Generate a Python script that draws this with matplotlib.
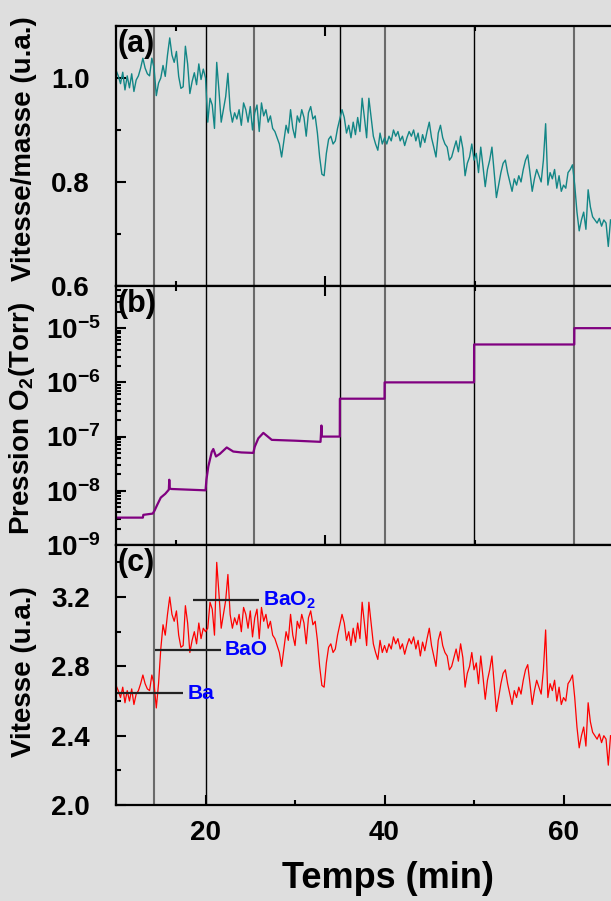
import numpy as np
import matplotlib
matplotlib.use("Agg")
from matplotlib import pyplot as plt
from matplotlib.ticker import MultipleLocator, FixedLocator, LogLocator, FuncFormatter, NullFormatter

# vitesse de depot (u.a.), un point toutes les 0.25 min a partir de 10 min
vitesse = [
	2.69, 2.66, 2.62, 2.68, 2.59, 2.66, 2.60, 2.67, 2.58, 2.64, 2.66, 2.70,
	2.75, 2.70, 2.67, 2.66, 2.75, 2.70, 2.56, 2.70, 2.90, 3.04, 2.98, 3.10,
	3.20, 3.10, 3.06, 3.12, 2.98, 2.91, 2.92, 3.15, 3.05, 2.88, 2.95, 3.00,
	2.93, 3.05, 2.96, 3.02, 3.00, 3.02, 3.17, 3.13, 2.98, 3.40, 3.22, 3.02,
	3.10, 3.18, 3.33, 3.10, 3.02, 3.08, 3.04, 3.10, 3.00, 3.14, 3.10, 3.02,
	3.12, 2.97, 3.08, 3.13, 2.96, 3.14, 3.06, 3.10, 3.02, 3.06, 2.98, 2.96,
	2.92, 2.88, 2.80, 2.90, 3.00, 2.95, 3.10, 2.98, 2.92, 3.06, 3.02, 3.10,
	3.05, 2.93, 3.08, 3.12, 3.04, 3.06, 2.95, 2.80, 2.69, 2.68, 2.82, 2.91,
	2.93, 2.88, 2.90, 2.98, 3.04, 3.10, 3.05, 2.95, 3.00, 2.92, 3.02, 2.94,
	3.05, 2.96, 3.17, 3.05, 2.92, 3.17, 3.05, 2.93, 2.88, 2.84, 2.95, 2.88,
	2.92, 2.88, 2.93, 2.90, 2.97, 2.93, 2.96, 2.90, 2.93, 2.87, 2.92, 2.96,
	2.93, 2.97, 2.90, 2.95, 2.86, 2.94, 2.89, 2.96, 3.02, 2.92, 2.86, 2.80,
	2.95, 3.00, 2.92, 2.88, 2.86, 2.78, 2.80, 2.85, 2.90, 2.83, 2.93, 2.85,
	2.68, 2.76, 2.80, 2.88, 2.78, 2.82, 2.70, 2.86, 2.74, 2.61, 2.72, 2.78,
	2.86, 2.70, 2.54, 2.62, 2.70, 2.76, 2.78, 2.70, 2.64, 2.58, 2.66, 2.62,
	2.68, 2.64, 2.72, 2.78, 2.81, 2.70, 2.58, 2.66, 2.72, 2.68, 2.64, 2.78,
	3.01, 2.62, 2.70, 2.66, 2.72, 2.60, 2.68, 2.58, 2.62, 2.60, 2.70, 2.72,
	2.75, 2.62, 2.45, 2.33, 2.40, 2.45, 2.34, 2.59, 2.48, 2.42, 2.40, 2.38,
	2.41, 2.36, 2.40, 2.38, 2.23, 2.40,
]

# vitesse normalisee par la masse (u.a.), meme echantillonnage
vitesse_masse = [
	1.015, 1.004, 0.989, 1.011, 0.977, 1.004, 0.981, 1.008, 0.974, 0.996, 1.004, 1.019,
	1.038, 1.019, 1.008, 1.004, 1.038, 1.019, 0.966, 0.990, 1.000, 1.024, 1.003, 1.044,
	1.077, 1.044, 1.030, 1.051, 1.003, 0.980, 0.983, 1.061, 1.027, 0.970, 0.993, 1.010,
	0.987, 1.027, 0.997, 1.017, 1.000, 0.915, 0.961, 0.948, 0.903, 1.030, 0.976, 0.915,
	0.939, 0.964, 1.009, 0.939, 0.915, 0.933, 0.921, 0.939, 0.909, 0.952, 0.939, 0.915,
	0.945, 0.900, 0.933, 0.948, 0.897, 0.952, 0.927, 0.939, 0.915, 0.927, 0.903, 0.897,
	0.885, 0.873, 0.848, 0.879, 0.909, 0.894, 0.939, 0.903, 0.885, 0.927, 0.915, 0.939,
	0.924, 0.888, 0.933, 0.945, 0.921, 0.927, 0.894, 0.848, 0.815, 0.812, 0.855, 0.882,
	0.888, 0.873, 0.879, 0.903, 0.921, 0.939, 0.924, 0.894, 0.909, 0.885, 0.915, 0.891,
	0.924, 0.897, 0.961, 0.924, 0.885, 0.961, 0.924, 0.888, 0.873, 0.861, 0.894, 0.873,
	0.885, 0.873, 0.888, 0.879, 0.900, 0.888, 0.897, 0.879, 0.888, 0.870, 0.885, 0.897,
	0.888, 0.900, 0.879, 0.894, 0.867, 0.891, 0.876, 0.897, 0.915, 0.885, 0.867, 0.848,
	0.894, 0.909, 0.885, 0.873, 0.867, 0.842, 0.848, 0.864, 0.879, 0.858, 0.888, 0.864,
	0.812, 0.836, 0.848, 0.873, 0.842, 0.855, 0.818, 0.867, 0.830, 0.791, 0.824, 0.842,
	0.867, 0.818, 0.770, 0.794, 0.818, 0.836, 0.842, 0.818, 0.800, 0.782, 0.806, 0.794,
	0.812, 0.800, 0.824, 0.842, 0.852, 0.818, 0.782, 0.806, 0.824, 0.812, 0.800, 0.842,
	0.912, 0.794, 0.818, 0.806, 0.824, 0.788, 0.812, 0.782, 0.794, 0.788, 0.818, 0.824,
	0.833, 0.794, 0.742, 0.706, 0.727, 0.742, 0.709, 0.785, 0.752, 0.733, 0.727, 0.721,
	0.730, 0.715, 0.727, 0.721, 0.676, 0.727,
]

t_debut = 10.0
pas = 0.25

# pression O2 (Torr)
t_pression = [10.0, 13.0, 13.05, 14.1, 14.3, 14.6, 15.0, 15.5, 15.9, 15.95, 16.0, 16.2,
	20.0, 20.1, 20.31, 20.69, 20.87, 21.17, 21.6, 22.37, 23.1, 24.0, 25.34, 25.5,
	25.9, 26.46, 27.4, 30.0, 32.85, 32.88, 32.95, 33.0, 35.0, 35.01, 40.0, 40.01,
	50.0, 50.01, 61.2, 61.21, 70.0]
pression = [3.2e-9, 3.2e-9, 3.6e-9, 3.8e-9, 4.3e-9, 5.5e-9, 7.5e-9, 8.8e-9, 1.05e-8, 1.6e-8, 1.1e-8, 1.08e-8,
	1.02e-8, 1.6e-8, 2.8e-8, 5.2e-8, 5.9e-8, 4.3e-8, 4.8e-8, 6.3e-8, 5.3e-8, 5.1e-8, 5.0e-8, 6.5e-8,
	9.3e-8, 1.17e-7, 8.7e-8, 8.4e-8, 8.0e-8, 1.0e-7, 1.6e-7, 1.0e-7, 1.0e-7, 5.0e-7, 5.0e-7, 1.0e-6,
	1.0e-6, 5.0e-6, 5.0e-6, 1.0e-5, 1.0e-5]

# changements de pression
lignes_noires = [20.0, 35.0, 50.0]
lignes_grises = [14.25, 25.4, 40.0, 61.2]

# phases et niveaux de vitesse
phases = ["Ba", "BaO", "BaO$_2$"]
niveaux = [2.645, 2.895, 3.18]
debut_trait = [10.0, 14.36, 18.6]
fin_trait = [17.5, 21.73, 26.0]

fond = "#dedede"
plt.rcParams["font.family"] = ["Liberation Sans", "DejaVu Sans"]
plt.rcParams["font.weight"] = "bold"
plt.rcParams["axes.labelweight"] = "bold"
plt.rcParams["mathtext.fontset"] = "custom"
plt.rcParams["mathtext.rm"] = "Liberation Sans:bold"
plt.rcParams["mathtext.bf"] = "Liberation Sans:bold"
plt.rcParams["mathtext.it"] = "Liberation Sans:bold"
plt.rcParams["mathtext.default"] = "bf"

t = t_debut + pas * np.arange(len(vitesse))

fig = plt.figure(figsize=(6.11, 9.01), dpi=100, facecolor=fond)
gauche, largeur = 0.1899, 0.8789
ax_a = fig.add_axes([gauche, 0.6826, largeur, 0.2886], facecolor=fond)
ax_b = fig.add_axes([gauche, 0.3951, largeur, 0.2875], facecolor=fond)
ax_c = fig.add_axes([gauche, 0.1065, largeur, 0.2886], facecolor=fond)

ax_a.plot(t, vitesse_masse, color="#128686", lw=1.0)
ax_b.plot(t_pression, pression, color="#800080", lw=1.6)
ax_c.plot(t, vitesse, color="#ff0000", lw=0.9)

for ax in (ax_a, ax_b):
	for x in lignes_noires:
		ax.axvline(x, color="black", lw=1.0, zorder=1)
	for x in lignes_grises:
		ax.axvline(x, color="#6a6a6a", lw=1.5, zorder=1)
ax_c.axvline(14.25, color="#6a6a6a", lw=1.5, zorder=1)
ax_c.axvline(20.0, color="black", lw=1.0, zorder=1)

for nom, y, x0, x1 in zip(phases, niveaux, debut_trait, fin_trait):
	ax_c.hlines(y, x0, x1, color="#222222", lw=1.6)
	ax_c.text(x1 + 0.45, y, nom, color="#0000ff", fontsize=15, fontweight="bold",
		va="center", ha="left")

for ax in (ax_a, ax_b, ax_c):
	ax.set_xlim(10, 70)
	for s in ax.spines.values():
		s.set_linewidth(1.6)
	ax.tick_params(which="both", direction="in", width=1.5, labelsize=20)
	ax.tick_params(which="major", length=7)
	ax.tick_params(which="minor", length=3.5)

# axes (a) et (b) : graduations hautes et basses sans etiquettes
for ax in (ax_a, ax_b):
	ax.xaxis.set_major_locator(FixedLocator([33.4, 66.8]))
	ax.xaxis.set_minor_locator(FixedLocator([16.7, 50.1]))
	ax.tick_params(axis="x", which="both", top=True, bottom=True, labelbottom=False)

ax_c.xaxis.set_major_locator(MultipleLocator(20))
ax_c.xaxis.set_minor_locator(MultipleLocator(10))
ax_c.tick_params(axis="x", which="both", pad=11)

ax_a.set_ylim(0.6, 1.1)
ax_a.yaxis.set_major_locator(MultipleLocator(0.2))
ax_a.yaxis.set_minor_locator(MultipleLocator(0.1))
ax_a.yaxis.set_major_formatter(FuncFormatter(lambda v, p: "%.1f" % v))
ax_a.tick_params(axis="y", pad=19)

ax_b.set_yscale("log")
ax_b.set_ylim(1e-9, 6e-5)
ax_b.yaxis.set_major_locator(LogLocator(base=10, numticks=12))
ax_b.yaxis.set_minor_locator(LogLocator(base=10, subs=np.arange(2, 10), numticks=12))
ax_b.yaxis.set_minor_formatter(NullFormatter())
ax_b.yaxis.set_major_formatter(FuncFormatter(lambda v, p: r"$10^{%d}$" % round(np.log10(v))))
ax_b.tick_params(axis="y", pad=11)

ax_c.set_ylim(2.0, 3.5)
ax_c.yaxis.set_major_locator(MultipleLocator(0.4))
ax_c.yaxis.set_minor_locator(MultipleLocator(0.2))
ax_c.yaxis.set_major_formatter(FuncFormatter(lambda v, p: "%.1f" % v))
ax_c.tick_params(axis="y", pad=19)

ax_a.set_ylabel("Vitesse/masse (u.a.)", fontsize=20)
ax_b.set_ylabel("Pression O$_2$(Torr)", fontsize=20)
ax_c.set_ylabel("Vitesse (u.a.)", fontsize=20)
ax_a.yaxis.set_label_coords(-0.148, 0.53)
ax_b.yaxis.set_label_coords(-0.148, 0.49)
ax_c.yaxis.set_label_coords(-0.148, 0.515)

ax_c.set_xlabel("Temps (min)", fontsize=26)
ax_c.xaxis.set_label_coords(0.5065, -0.215)

for ax, lettre in zip((ax_a, ax_b, ax_c), ("(a)", "(b)", "(c)")):
	ax.text(0.002, 0.99, lettre, transform=ax.transAxes, fontsize=22,
		fontweight="bold", va="top", ha="left")

fig.savefig("out.png", dpi=100, facecolor=fond)
